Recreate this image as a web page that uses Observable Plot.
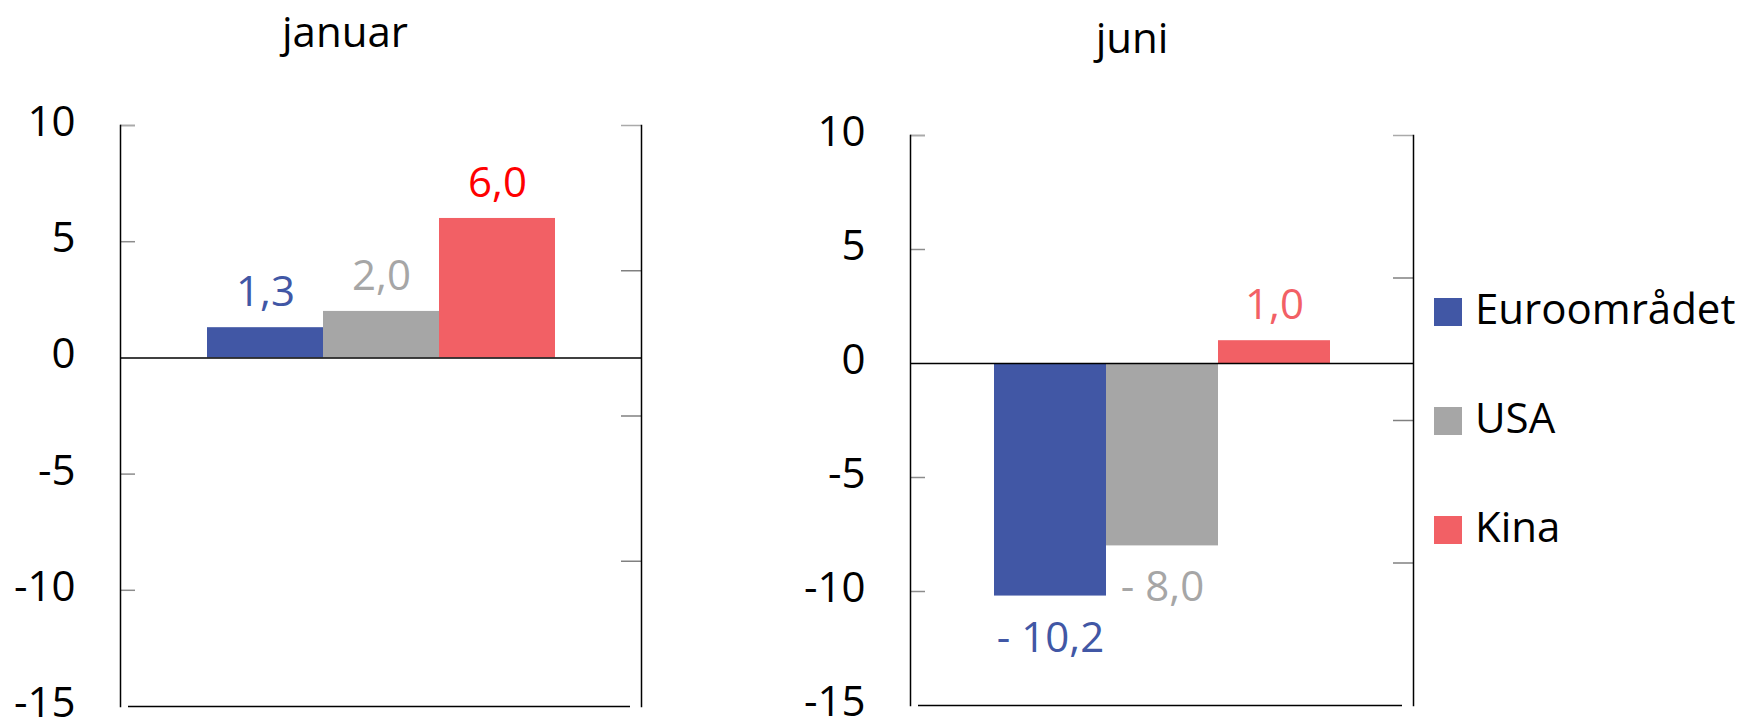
<!DOCTYPE html>
<html>
<head>
<meta charset="utf-8">
<script src="https://cdn.jsdelivr.net/npm/d3@7"></script>
<script src="https://cdn.jsdelivr.net/npm/@observablehq/plot@0.6"></script>
<style>
  body { margin: 0; background: #fff; font-family: "Open Sans", sans-serif; }
  #wrap { position: relative; width: 1740px; height: 720px; overflow: hidden; }
  .title { position: absolute; font-size: 42px; line-height: 42px; color: #000; transform: translateX(-50%); white-space: nowrap; }
  .panel { position: absolute; top: 70px; }
  .leg { position: absolute; left: 1434px; height: 42px; font-size: 42px; line-height: 42px; color: #000; white-space: nowrap; }
  .leg span.sw { position: absolute; left: 0; top: 11px; width: 28px; height: 28px; }
  .leg span.lb { position: absolute; left: 41px; top: 0; }
</style>
</head>
<body>
<div id="wrap"></div>
<script>
// ---- data ----
const series = ["Euroområdet", "USA", "Kina"];
const panels = ["januar", "juni"];
const januarValues = [1.3, 2.0, 6.0];
const juniValues = [-10.2, -8.0, 1.0];
const leftTicks = [10, 5, 0, -5, -10, -15];
const rightTicks = [10, 3.75, -2.5, -8.75, -15];

// ---- styles ----
const barColors = ["#4157A5", "#A6A6A6", "#F26065"];
const januarLabelColors = ["#4157A5", "#A6A6A6", "#FF0000"];
const juniLabelColors = ["#4157A5", "#A6A6A6", "#F26065"];

const fmt = v => (v < 0 ? "- " + Math.abs(v).toFixed(1) : v.toFixed(1)).replace(".", ",");

function panel(values, labelColors, opts) {
  const data = series.map((s, i) => ({series: s, value: values[i], labelColor: labelColors[i]}));
  const W = opts.width - opts.marginLeft - opts.marginRight;
  return Plot.plot({
    width: opts.width,
    height: 650,
    marginLeft: opts.marginLeft,
    marginRight: opts.marginRight,
    marginTop: opts.marginTop,
    marginBottom: opts.marginBottom,
    style: {fontFamily: "Open Sans", fontSize: "42px", color: "#000", background: "transparent", overflow: "visible"},
    x: {type: "band", domain: series, paddingInner: 0, paddingOuter: 0.74, axis: null},
    y: {domain: [-15, 10], axis: null},
    color: {domain: series, range: barColors},
    marks: [
      Plot.barY(data, {x: "series", y: "value", fill: "series"}),
      Plot.ruleY(leftTicks.filter(d => d !== 0 && d !== -15), {stroke: "#8c8c8c", strokeWidth: 1.5, insetRight: W - 15}),
      Plot.ruleY(rightTicks.filter(d => d !== 10 && d !== -15), {stroke: "#808080", strokeWidth: 1.5, insetLeft: W - 20}),
      Plot.ruleY([10], {stroke: "#aaa", strokeWidth: 1.5, insetRight: W - 15}),
      Plot.ruleY([10], {stroke: "#aaa", strokeWidth: 1.5, insetLeft: W - 20}),
      Plot.ruleY([0], {stroke: "#000", strokeWidth: 1.5}),
      Plot.ruleY([-15], {stroke: "#000", strokeWidth: 1.5, insetLeft: 8, insetRight: 11}),
      Plot.frame({anchor: "left", stroke: "#000", strokeWidth: 1.5}),
      Plot.frame({anchor: "right", stroke: "#000", strokeWidth: 1.5}),
      Plot.axisY(leftTicks, {anchor: "left", label: null, tickSize: 0, tickPadding: 45, dy: -3, tickFormat: d => String(d), fontSize: 42, fill: "#000"}),
      Plot.text(data.filter(d => d.value >= 0), {x: "series", y: "value", text: d => fmt(d.value), fill: "labelColor", fontSize: 42, dy: -35, lineAnchor: "middle"}),
      Plot.text(data.filter(d => d.value < 0), {x: "series", y: "value", text: d => fmt(d.value), fill: "labelColor", fontSize: 42, dy: 42, lineAnchor: "middle"})
    ]
  });
}

const wrap = document.getElementById("wrap");

const p1 = panel(januarValues, januarLabelColors, {width: 651, marginLeft: 120, marginRight: 10, marginTop: 55, marginBottom: 14});
p1.classList.add("panel");
p1.style.left = "0px";
wrap.appendChild(p1);

const p2 = panel(juniValues, juniLabelColors, {width: 663, marginLeft: 150, marginRight: 10, marginTop: 65, marginBottom: 15});
p2.classList.add("panel");
p2.style.left = "760px";
wrap.appendChild(p2);

// titles
const titlePos = [{x: 345, top: 10}, {x: 1132, top: 16}];
panels.forEach((t, i) => {
  const d = document.createElement("div");
  d.className = "title";
  d.textContent = t;
  d.style.left = titlePos[i].x + "px";
  d.style.top = titlePos[i].top + "px";
  wrap.appendChild(d);
});

// legend
series.forEach((s, i) => {
  const row = document.createElement("div");
  row.className = "leg";
  row.style.top = (287 + i * 109) + "px";
  const sw = document.createElement("span");
  sw.className = "sw";
  sw.style.background = barColors[i];
  const lb = document.createElement("span");
  lb.className = "lb";
  lb.textContent = s;
  row.appendChild(sw);
  row.appendChild(lb);
  wrap.appendChild(row);
});
</script>
</body>
</html>
